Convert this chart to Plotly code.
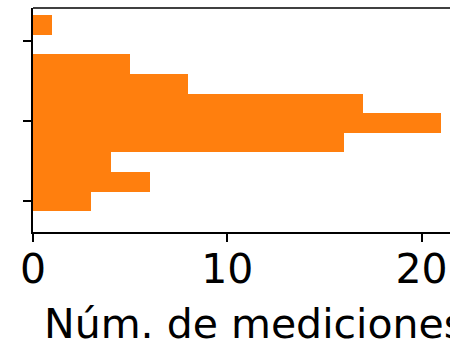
import plotly.graph_objects as go

# Histogram counts per bin, listed from the lowest bin to the highest
counts = [3, 6, 4, 16, 21, 17, 8, 5, 0, 1]
bin_start = -0.13
bin_width = 0.245
y_ticks = [0, 1, 2]
x_ticks = [0, 10, 20]
x_title = "Núm. de mediciones"

centers = [bin_start + bin_width * (i + 0.5) for i in range(len(counts))]

W, H = 450, 341
L, T, B = 32.5, 8, 109
plot_w = W - L

fig = go.Figure(
    go.Bar(
        x=counts,
        y=centers,
        width=[bin_width] * len(counts),
        orientation="h",
        marker=dict(color="#ff7f0e", line=dict(width=0)),
        hoverinfo="skip",
    )
)

font = dict(family="DejaVu Sans", size=41, color="black")

fig.update_layout(
    width=W,
    height=H,
    margin=dict(l=L, r=0, t=T, b=B, pad=0),
    plot_bgcolor="white",
    paper_bgcolor="white",
    bargap=0,
    showlegend=False,
    font=font,
    xaxis=dict(
        range=[0, plot_w / 19.45],
        tickvals=x_ticks,
        ticks="outside",
        ticklen=8,
        tickwidth=1.5,
        tickcolor="black",
        ticklabelstandoff=-8,
        showline=True,
        linecolor="black",
        linewidth=1.5,
        showgrid=False,
        zeroline=False,
        tickfont=font,
    ),
    yaxis=dict(
        range=[-0.39, 2.41],
        tickvals=y_ticks,
        showticklabels=False,
        ticks="outside",
        ticklen=8,
        tickwidth=1.5,
        tickcolor="black",
        showline=True,
        linecolor="black",
        linewidth=1.5,
        showgrid=False,
        zeroline=False,
    ),
    shapes=[
        dict(
            type="line", xref="paper", yref="paper",
            x0=0, x1=1, y0=1, y1=1,
            line=dict(color="black", width=1.5),
        )
    ],
    annotations=[
        dict(
            text=x_title,
            xref="paper", yref="paper",
            x=(42 - L) / plot_w, y=-0.295,
            xanchor="left", yanchor="top",
            showarrow=False,
            font=font,
        )
    ],
)

fig.write_html("out.html")
